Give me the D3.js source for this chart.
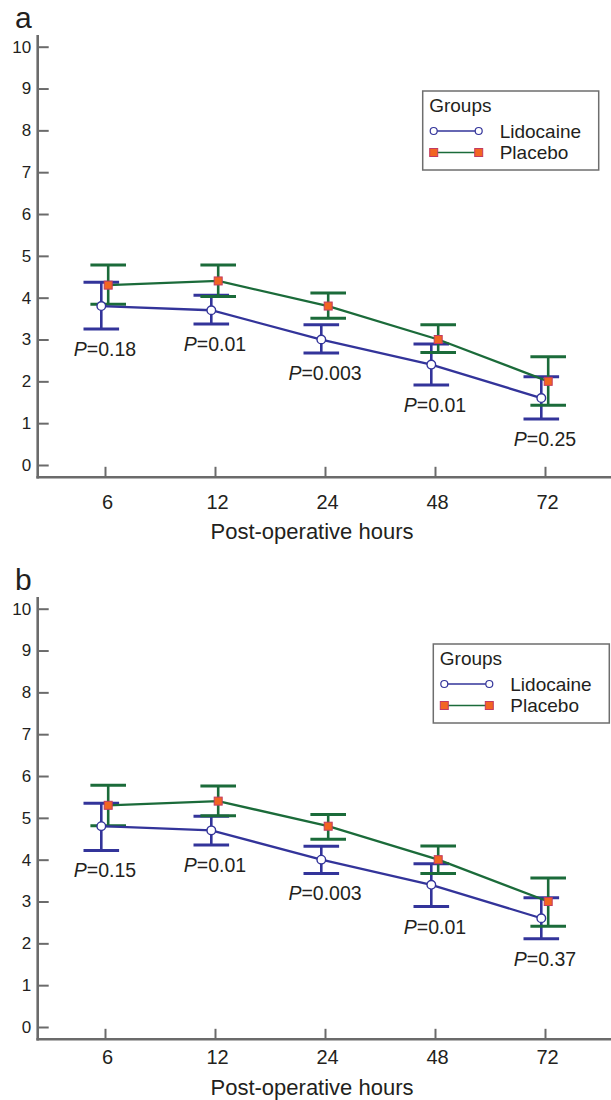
<!DOCTYPE html>
<html>
<head>
<meta charset="utf-8">
<script src="https://cdn.jsdelivr.net/npm/d3@7"></script>
<style>
  body { margin: 0; background: #fff; }
  svg { display: block; font-family: "Liberation Sans", Arial, Helvetica, sans-serif; }
</style>
</head>
<body>
<div class="chart"></div>
<script>
// Data (pain scores)
var hours = ["6", "12", "24", "48", "72"];
var yTicks = [0, 1, 2, 3, 4, 5, 6, 7, 8, 9, 10];
var groupNames = ["Lidocaine", "Placebo"];

// panel a
var lidoMeanA = [3.8, 3.7, 3.0, 2.4, 1.6];
var lidoLowA = [3.25, 3.37, 2.68, 1.91, 1.10];
var lidoHighA = [4.37, 4.06, 3.35, 2.89, 2.11];
var placMeanA = [4.3, 4.4, 3.8, 3.0, 2.0];
var placLowA = [3.84, 4.03, 3.51, 2.69, 1.43];
var placHighA = [4.78, 4.78, 4.11, 3.35, 2.59];
var pValuesA = ["0.18", "0.01", "0.003", "0.01", "0.25"];

// panel b
var lidoMeanB = [4.8, 4.7, 4.0, 3.4, 2.6];
var lidoLowB = [4.22, 4.35, 3.67, 2.88, 2.11];
var lidoHighB = [5.35, 5.04, 4.32, 3.90, 3.09];
var placMeanB = [5.3, 5.4, 4.8, 4.0, 3.0];
var placLowB = [4.81, 5.05, 4.49, 3.67, 2.41];
var placHighB = [5.78, 5.76, 5.08, 4.33, 3.56];
var pValuesB = ["0.15", "0.01", "0.003", "0.01", "0.37"];

// Styles
var blue = "#33349a";
var green = "#1b6b3a";
var orange = "#f26522";
var axisGray = "#6b6b6b";
var ink = "#231f20";

var svgWidth = 611;
var svgHeight = 1100;

var svg = d3.select(".chart")
  .append("svg")
  .attr("width", svgWidth)
  .attr("height", svgHeight);

// x scale is shared by both panels
var xScale = d3.scalePoint()
  .domain(hours)
  .range([105, 545]);

function drawPanel(cfg) {
  var g = svg.append("g")
    .attr("transform", `translate(0, ${cfg.top})`);

  var yScale = d3.scaleLinear()
    .domain([0, 10])
    .range([465, 46.7]);

  var axisY = 477.3;

  // panel letter
  g.append("text")
    .attr("x", 15)
    .attr("y", 27.5)
    .attr("font-size", "30px")
    .attr("fill", ink)
    .text(cfg.letter);

  // Step 1: axes
  // ==============================
  var leftAxis = d3.axisLeft(yScale)
    .tickValues(yTicks)
    .tickSizeInner(-11)
    .tickSizeOuter(0)
    .tickPadding(6.5);

  var yAxisG = g.append("g")
    .attr("transform", "translate(37.7, 0)")
    .call(leftAxis);
  yAxisG.select(".domain").remove();
  yAxisG.selectAll(".tick line").attr("stroke", axisGray).attr("stroke-width", 2);
  yAxisG.selectAll(".tick text")
    .attr("font-size", "17px")
    .attr("font-family", "Liberation Sans, Arial, sans-serif")
    .attr("fill", ink);

  var bottomAxis = d3.axisBottom(xScale)
    .tickSizeInner(-10.5)
    .tickSizeOuter(0)
    .tickPadding(cfg.tickPad);

  var xAxisG = g.append("g")
    .attr("transform", `translate(0, ${axisY})`)
    .call(bottomAxis);
  xAxisG.select(".domain").remove();
  xAxisG.selectAll(".tick line").attr("stroke", axisGray).attr("stroke-width", 2);
  xAxisG.selectAll(".tick text")
    .attr("font-size", "20px")
    .attr("font-family", "Liberation Sans, Arial, sans-serif")
    .attr("dx", 2)
    .attr("fill", ink);

  // axis lines
  g.append("line")
    .attr("x1", 37.7).attr("x2", 37.7)
    .attr("y1", 35).attr("y2", axisY + 1.3)
    .attr("stroke", axisGray)
    .attr("stroke-width", 2.6);

  g.append("line")
    .attr("x1", 36.4).attr("x2", svgWidth)
    .attr("y1", axisY).attr("y2", axisY)
    .attr("stroke", axisGray)
    .attr("stroke-width", 2.6);

  // axis title
  g.append("text")
    .attr("x", 312)
    .attr("y", axisY + cfg.titleGap)
    .attr("text-anchor", "middle")
    .attr("font-size", "22px")
    .attr("fill", ink)
    .text("Post-operative hours");

  // Step 2: series
  // ==============================
  var series = [
    { name: groupNames[0], mean: cfg.lidoMean, low: cfg.lidoLow, high: cfg.lidoHigh, color: blue, dx: -3.7 },
    { name: groupNames[1], mean: cfg.placMean, low: cfg.placLow, high: cfg.placHigh, color: green, dx: 3.2 }
  ];

  series.forEach(function(s) {
    var rows = hours.map(function(h, i) {
      return { hour: h, mean: s.mean[i], low: s.low[i], high: s.high[i] };
    });
    var px = function(d) { return xScale(d.hour) + s.dx; };

    var eb = g.append("g");
    eb.selectAll(".stem")
      .data(rows)
      .enter()
      .append("line")
      .attr("x1", px).attr("x2", px)
      .attr("y1", d => yScale(d.low))
      .attr("y2", d => yScale(d.high))
      .attr("stroke", s.color)
      .attr("stroke-width", 2.6);

    ["low", "high"].forEach(function(k) {
      eb.selectAll(".cap-" + k)
        .data(rows)
        .enter()
        .append("line")
        .attr("x1", d => px(d) - 17.8)
        .attr("x2", d => px(d) + 17.8)
        .attr("y1", d => yScale(d[k]))
        .attr("y2", d => yScale(d[k]))
        .attr("stroke", s.color)
        .attr("stroke-width", 3);
    });

    s.rows = rows;
    s.px = px;
  });

  var line = d3.line();
  series.forEach(function(s) {
    g.append("path")
      .datum(s.rows)
      .attr("d", line.x(s.px).y(d => yScale(d.mean)))
      .attr("fill", "none")
      .attr("stroke", s.color)
      .attr("stroke-width", 2.3);
  });

  // markers
  g.selectAll(".lido-dot")
    .data(series[0].rows)
    .enter()
    .append("circle")
    .attr("cx", series[0].px)
    .attr("cy", d => yScale(d.mean))
    .attr("r", 4.3)
    .attr("fill", "#fff")
    .attr("stroke", blue)
    .attr("stroke-width", 1.4);

  g.selectAll(".plac-dot")
    .data(series[1].rows)
    .enter()
    .append("rect")
    .attr("x", d => series[1].px(d) - 4)
    .attr("y", d => yScale(d.mean) - 4)
    .attr("width", 8)
    .attr("height", 8)
    .attr("fill", orange)
    .attr("stroke", "#c23a62")
    .attr("stroke-width", 1);

  // Step 3: P-value labels under the lidocaine error bars
  // ==============================
  var pText = g.selectAll(".pval")
    .data(cfg.pValues)
    .enter()
    .append("text")
    .attr("x", (d, i) => xScale(hours[i]))
    .attr("y", (d, i) => yScale(cfg.lidoLow[i]) + 27)
    .attr("text-anchor", "middle")
    .attr("font-size", "19.5px")
    .attr("fill", ink);
  pText.append("tspan").attr("font-style", "italic").text("P");
  pText.append("tspan").text(d => "=" + d);

  // Step 4: legend
  // ==============================
  var lg = g.append("g")
    .attr("transform", `translate(${cfg.legendX}, ${cfg.legendY})`);

  lg.append("rect")
    .attr("width", 176)
    .attr("height", 79)
    .attr("fill", "#fff")
    .attr("stroke", "#6e6e6e")
    .attr("stroke-width", 1.5);

  lg.append("text")
    .attr("x", 6.5)
    .attr("y", 20.5)
    .attr("font-size", "19px")
    .attr("fill", ink)
    .text("Groups");

  [40, 61.5].forEach(function(ly, i) {
    lg.append("line")
      .attr("x1", 11).attr("x2", 56)
      .attr("y1", ly).attr("y2", ly)
      .attr("stroke", series[i].color)
      .attr("stroke-width", 1.5);
    [11, 56].forEach(function(mx) {
      if (i === 0) {
        lg.append("circle")
          .attr("cx", mx).attr("cy", ly).attr("r", 3.5)
          .attr("fill", "#fff").attr("stroke", blue).attr("stroke-width", 1.2);
      } else {
        lg.append("rect")
          .attr("x", mx - 4).attr("y", ly - 4)
          .attr("width", 8).attr("height", 8)
          .attr("fill", orange).attr("stroke", "#c23a62").attr("stroke-width", 1);
      }
    });
    lg.append("text")
      .attr("x", 77)
      .attr("y", ly + 6.5)
      .attr("font-size", "19px")
      .attr("fill", ink)
      .text(groupNames[i]);
  });
}

drawPanel({
  letter: "a", top: 0, tickPad: 17.8, titleGap: 62,
  legendX: 422.7, legendY: 91,
  lidoMean: lidoMeanA, lidoLow: lidoLowA, lidoHigh: lidoHighA,
  placMean: placMeanA, placLow: placLowA, placHigh: placHighA,
  pValues: pValuesA
});

drawPanel({
  letter: "b", top: 562, tickPad: 10.4, titleGap: 55.6,
  legendX: 433.3, legendY: 82,
  lidoMean: lidoMeanB, lidoLow: lidoLowB, lidoHigh: lidoHighB,
  placMean: placMeanB, placLow: placLowB, placHigh: placHighB,
  pValues: pValuesB
});
</script>
</body>
</html>
